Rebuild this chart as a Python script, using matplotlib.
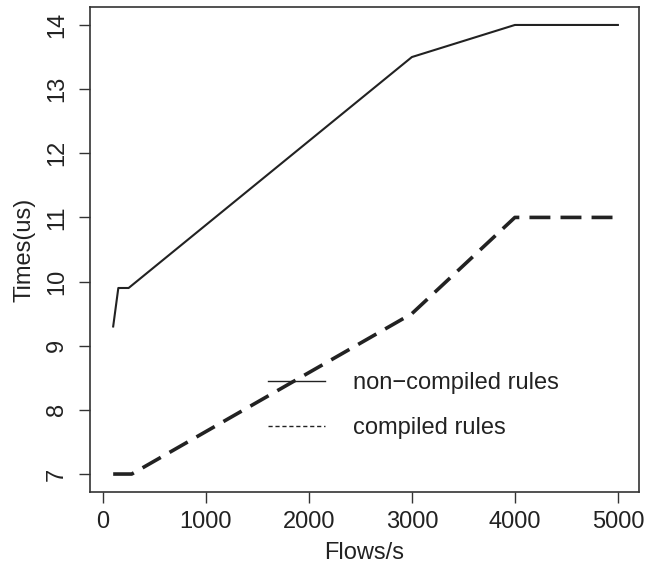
import matplotlib
matplotlib.use("Agg")
import matplotlib.pyplot as plt
from matplotlib.lines import Line2D

plt.rcParams['font.family'] = ['Liberation Sans', 'DejaVu Sans']

# значения
flows_nc = [100, 150, 250, 3000, 4000, 5000]
times_nc = [9.3, 9.9, 9.9, 13.5, 14.0, 14.0]
flows_c = [100, 280, 3000, 4000, 5000]
times_c = [7.0, 7.0, 9.5, 11.0, 11.0]
xticks = [0, 1000, 2000, 3000, 4000, 5000]
yticks = [7, 8, 9, 10, 11, 12, 13, 14]
labels = ['non\u2212compiled rules', 'compiled rules']

ink = '#222222'
fs = 17

fig = plt.figure(figsize=(6.47, 5.69), dpi=100)
ax = fig.add_axes([90 / 647, 1 - 492 / 569, 549 / 647, 485 / 569])

ax.plot(flows_nc, times_nc, color=ink, lw=1.5, solid_joinstyle='round')
ax.plot(flows_c, times_c, color=ink, lw=2.6, linestyle=(0, (5.8, 2.8)),
        dash_capstyle='butt')

ax.set_xlim(-125, 5205)
ax.set_ylim(6.72, 14.28)
ax.set_xticks(xticks)
ax.set_yticks(yticks)
ax.tick_params(axis='both', direction='out', length=8, width=1.0,
               color='#333333', labelsize=fs, labelcolor=ink)
ax.tick_params(axis='x', pad=6)
ax.tick_params(axis='y', pad=8)
for lab in ax.get_yticklabels():
    lab.set_rotation(90)
    lab.set_va('center')
for s in ax.spines.values():
    s.set_color('#333333')
    s.set_linewidth(1.2)

fig.text(25 / 647, 1 - 250 / 569, 'Times(us)', rotation=90, ha='center',
         va='center', fontsize=fs, color=ink)
fig.text(364 / 647, 1 - 553 / 569, 'Flows/s', ha='center', va='center',
         fontsize=fs, color=ink)

handles = [Line2D([], [], color=ink, lw=1.0),
           Line2D([], [], color=ink, lw=1.0, linestyle=(0, (3, 2)))]
ax.legend(handles, labels, loc='center left',
          bbox_to_anchor=((268 - 90) / 549, (492 - 405.5) / 485),
          frameon=False, fontsize=fs, handlelength=2.4, handletextpad=1.2,
          labelspacing=0.98, borderpad=0, borderaxespad=0,
          labelcolor=ink)

fig.savefig('out.png', dpi=100)
